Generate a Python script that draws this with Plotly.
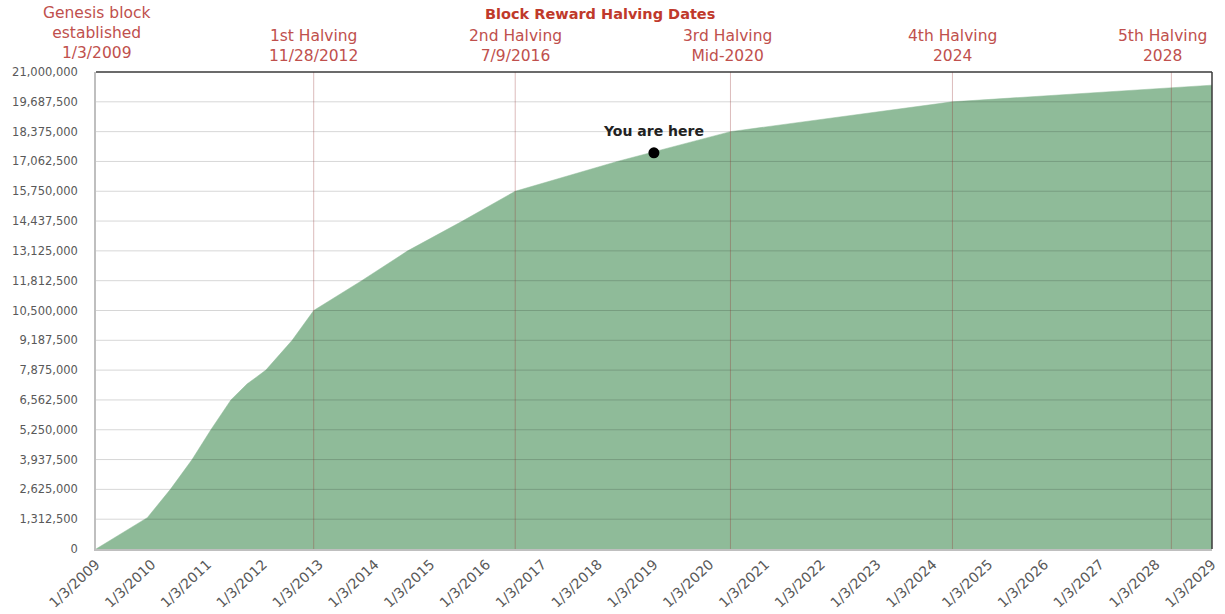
import plotly.graph_objects as go

# Cumulative bitcoin supply, read at key dates
supply_dates = [
    "2009-01-03", "2009-03-27", "2009-07-17", "2009-12-05", "2010-05-05",
    "2010-09-24", "2011-01-25", "2011-06-05", "2011-09-20", "2012-01-20",
    "2012-07-10", "2012-11-28", "2013-10-08", "2014-08-05", "2015-07-30",
    "2016-07-09", "2018-05-08", "2020-05-18", "2024-05-10", "2028-04-12",
    "2029-01-03",
]
supply_values = [
    0, 350000, 790000, 1380000, 2625000,
    3937500, 5250000, 6562500, 7270000, 7875000,
    9187500, 10500000, 11812500, 13125000, 14437500,
    15750000, 17062500, 18375000, 19687500, 20300000,
    20420000,
]

# Halving events shown as vertical markers
halving_dates = ["2012-11-28", "2016-07-09", "2020-05-18", "2024-05-10", "2028-04-12"]
halving_labels = [
    "1st Halving<br>11/28/2012",
    "2nd Halving<br>7/9/2016",
    "3rd Halving<br>Mid-2020",
    "4th Halving<br>2024",
    "5th Halving<br>2028",
]
# pixel nudges so the last label stays inside the figure
halving_label_shift = [0, 0, -3, 0, -9]

genesis_date = "2009-01-03"
genesis_label = "Genesis block<br>established<br>1/3/2009"

now_date = "2019-01-03"
now_value = 17440000

x_tick_dates = [f"{y}-01-03" for y in range(2009, 2030)]
x_tick_text = [f"1/3/{y}" for y in range(2009, 2030)]
y_tick_values = [i * 1312500 for i in range(17)]

fill_color = "#8fbb99"
label_red = "#c0504d"
label_font = dict(family="DejaVu Sans", size=15.5, color=label_red)

fig = go.Figure()
fig.add_trace(go.Scatter(
    x=supply_dates, y=supply_values, mode="lines",
    line=dict(color=fill_color, width=0.5),
    fill="tozeroy", fillcolor=fill_color, hoverinfo="skip", showlegend=False,
))
fig.add_trace(go.Scatter(
    x=[now_date], y=[now_value], mode="markers",
    marker=dict(color="black", size=11),
    showlegend=False, hoverinfo="skip",
))

shapes = []
# horizontal gridlines drawn over the filled area
for v in y_tick_values[1:-1]:
    shapes.append(dict(type="line", xref="paper", x0=0, x1=1, yref="y", y0=v, y1=v,
                       line=dict(color="rgba(0,0,0,0.16)", width=1), layer="above"))
# halving markers
for d in halving_dates:
    shapes.append(dict(type="line", xref="x", x0=d, x1=d, yref="paper", y0=0, y1=1,
                       line=dict(color="rgba(150,50,50,0.33)", width=1), layer="above"))
# frame: dark top and right edges
shapes.append(dict(type="line", xref="paper", x0=0, x1=1, yref="paper", y0=1, y1=1,
                   line=dict(color="#3a3a3a", width=1.5), layer="above"))
shapes.append(dict(type="line", xref="paper", x0=1, x1=1, yref="paper", y0=0, y1=1,
                   line=dict(color="#3a3a3a", width=1.5), layer="above"))

annotations = []
for d, t, s in zip(halving_dates, halving_labels, halving_label_shift):
    annotations.append(dict(x=d, xref="x", y=1.0545, yref="paper", text=t,
                            showarrow=False, xanchor="center", yanchor="middle",
                            xshift=s, font=label_font))
annotations.append(dict(x=genesis_date, xref="x", y=1.0818, yref="paper", text=genesis_label,
                        showarrow=False, xanchor="center", yanchor="middle",
                        font=label_font))
annotations.append(dict(x=0.452, xref="paper", y=1.1216, yref="paper",
                        text="<b>Block Reward Halving Dates</b>",
                        showarrow=False, xanchor="center", yanchor="middle",
                        font=dict(family="DejaVu Sans", size=14.5, color="#c0392b")))
annotations.append(dict(x=now_date, xref="x", y=now_value, yref="y",
                        text="<b>You are here</b>", showarrow=False,
                        xanchor="center", yanchor="middle", yshift=22,
                        font=dict(family="DejaVu Sans", size=14, color="#222")))

fig.update_layout(
    width=1225, height=614,
    margin=dict(l=96, r=13, t=72, b=65),
    paper_bgcolor="white", plot_bgcolor="white",
    shapes=shapes, annotations=annotations,
    xaxis=dict(
        type="date", range=["2009-01-03", "2029-01-03"],
        tickvals=x_tick_dates, ticktext=x_tick_text, tickangle=-43,
        showgrid=False, zeroline=False, ticks="", automargin=False,
        showline=True, linecolor="#bfbfbf", linewidth=1.5,
        tickfont=dict(family="DejaVu Sans", size=14, color="#595959"),
    ),
    yaxis=dict(
        range=[0, 21000000], tickvals=y_tick_values, tickformat=",d",
        showgrid=False, zeroline=False, ticks="", automargin=False,
        showline=True, linecolor="#bfbfbf", linewidth=1.5,
        tickfont=dict(family="DejaVu Sans", size=11.5, color="#595959"),
        ticklabelstandoff=14,
    ),
)

fig.write_html("out.html")
